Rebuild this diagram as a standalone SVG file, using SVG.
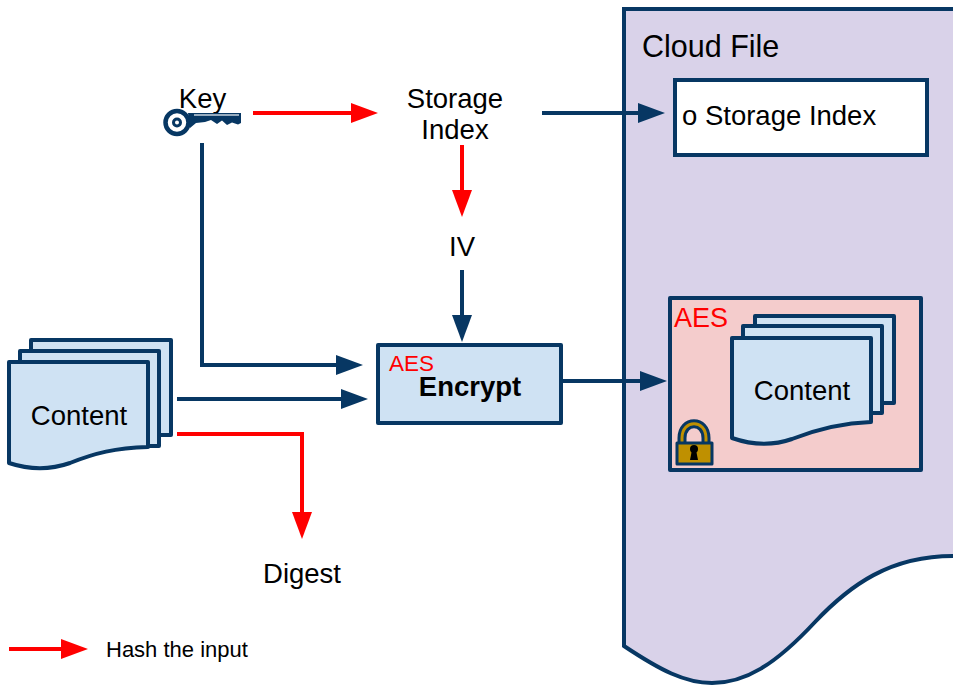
<svg xmlns="http://www.w3.org/2000/svg" width="953" height="686" viewBox="0 0 953 686">
<style>
text{font-family:"Liberation Sans",Arial,sans-serif;fill:#000}
.l{font-size:27.500px}
.c{text-anchor:middle}
.red{fill:#f00}
.doc{fill:#cfe2f3;stroke:#073763;stroke-width:4;stroke-linejoin:round}
.n{fill:none;stroke:#073763;stroke-width:4}
.r{fill:none;stroke:#f00;stroke-width:4}
</style>
<defs>
<marker id="an" markerUnits="userSpaceOnUse" markerWidth="30" markerHeight="22" refX="20" refY="11" orient="auto"><path d="M0 1L27 11L0 21Z" fill="#073763"/></marker>
<marker id="ar" markerUnits="userSpaceOnUse" markerWidth="30" markerHeight="22" refX="20" refY="11" orient="auto"><path d="M0 1L27 11L0 21Z" fill="#f00"/></marker>
</defs>
<g id="cloud-file">
<path d="M624 9H953V556C890 556 850 585 815 622C775 665 745 683 712 683C685 683 660 670 624 646Z" fill="#d9d2e9"/>
<path d="M953 9H624V646C660 670 685 683 712 683C745 683 775 665 815 622C850 585 890 556 953 556" fill="none" stroke="#073763" stroke-width="4"/>
<text x="642" y="57" font-size="30.500">Cloud File</text>
</g>
<g id="storage-index-box">
<rect x="675" y="80" width="252" height="75" fill="#fff" stroke="#073763" stroke-width="4"/>
<text x="682" y="125" font-size="27.500">o Storage Index</text>
</g>
<g id="encrypted-content">
<rect x="670" y="298" width="251" height="172" fill="#f4cccc" stroke="#073763" stroke-width="4" stroke-linejoin="round"/>
<text x="674" y="327" font-size="27" class="red">AES</text>
<rect x="755" y="316" width="139" height="87" class="doc"/>
<rect x="743" y="326" width="139" height="87" class="doc"/>
<path d="M732 338H871V422C840 423 815 430 792 439C772 446 752 445 732 438Z" class="doc"/>
<text x="802" y="400" class="c" font-size="27.500">Content</text>
<g id="lock">
<path d="M682 445V438C682 419 706 419 706 438V445" fill="none" stroke="#073763" stroke-width="9"/>
<path d="M682 445V438C682 419 706 419 706 438V445" fill="none" stroke="#bf9000" stroke-width="3"/>
<rect x="677" y="443" width="35" height="21" fill="#bf9000" stroke="#073763" stroke-width="3" stroke-linejoin="round"/>
<circle cx="694" cy="449" r="4" fill="#000"/>
<path d="M692 450H696L698 460H690Z" fill="#000"/>
</g>
</g>
<g id="content-source">
<rect x="31" y="340" width="140" height="95" class="doc"/>
<rect x="20" y="351" width="139" height="95" class="doc"/>
<path d="M9 362H148V447C115 448 95 453 70 463C50 470 30 470 9 463Z" class="doc"/>
<text x="79" y="424.500" class="c" font-size="27.500">Content</text>
</g>
<g id="encrypt">
<rect x="378" y="345" width="183" height="78" fill="#cfe2f3" stroke="#073763" stroke-width="4" stroke-linejoin="round"/>
<text x="389" y="371" font-size="22.500" class="red">AES</text>
<text x="470" y="396" class="c" font-size="27.500" font-weight="bold">Encrypt</text>
</g>
<g id="key">
<text x="202.500" y="107.500" class="c l">Key</text>
<circle cx="177" cy="122.500" r="11.500" fill="#fff" stroke="#073763" stroke-width="4.500"/>
<circle cx="177" cy="122.500" r="3.500" fill="#fff" stroke="#073763" stroke-width="3"/>
<path d="M188 113H241V123L238 124.500L232 122.500L227 125L222 120.500L217 124L211 120L205 122L196 123L190 128Z" fill="#073763"/>
<path d="M194 115H239" stroke="#c9d4de" stroke-width="1.500"/>
</g>
<g id="storage-index">
<text x="455" y="108" class="c l">Storage</text>
<text x="455" y="139" class="c l">Index</text>
</g>
<g id="iv"><text x="462" y="256" class="c l">IV</text></g>
<g id="digest"><text x="302" y="583" class="c l">Digest</text></g>
<g id="legend"><text x="106" y="657" font-size="22">Hash the input</text></g>
<g id="connectors">
<path d="M253 113H371" class="r" marker-end="url(#ar)"/>
<path d="M542 113H658" class="n" marker-end="url(#an)"/>
<path d="M462 145V210" class="r" marker-end="url(#ar)"/>
<path d="M462 270V335" class="n" marker-end="url(#an)"/>
<path d="M202 143V365H356" class="n" marker-end="url(#an)"/>
<path d="M177 399H361" class="n" marker-end="url(#an)"/>
<path d="M561 381H660" class="n" marker-end="url(#an)"/>
<path d="M177 434H302V532" class="r" marker-end="url(#ar)"/>
<path d="M9 649H81" class="r" marker-end="url(#ar)"/>
</g>
</svg>
